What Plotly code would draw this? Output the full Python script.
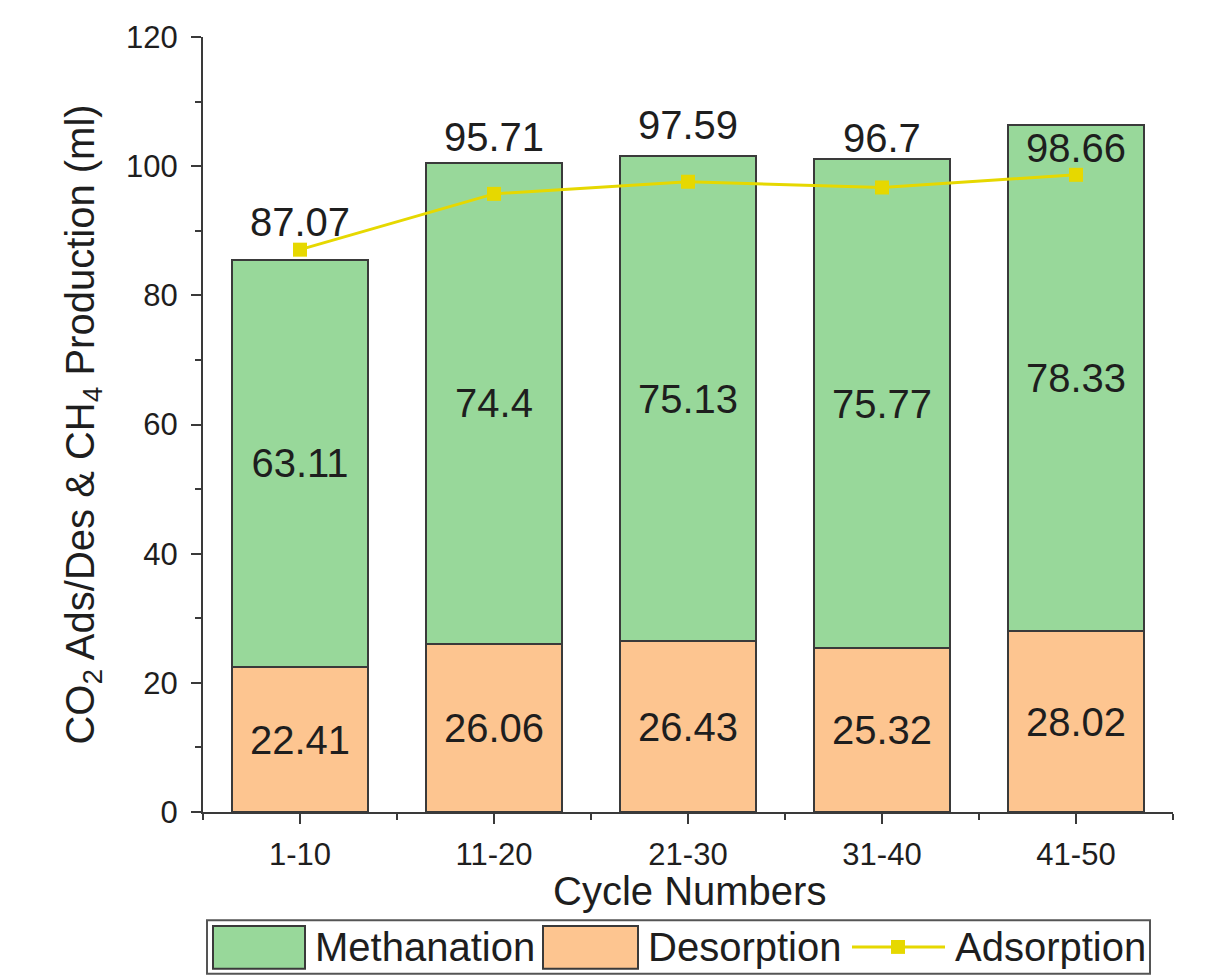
import plotly.graph_objects as go

categories = ["1-10", "11-20", "21-30", "31-40", "41-50"]
desorption = [22.41, 26.06, 26.43, 25.32, 28.02]
methanation = [63.11, 74.4, 75.13, 75.77, 78.33]
adsorption = [87.07, 95.71, 97.59, 96.7, 98.66]

GREEN = "#98D89A"
ORANGE = "#FDC590"
YELLOW = "#E6D800"
EDGE = "#3a3a3a"
TXT = "#1e1e1e"
FONT = "Liberation Sans, Arial, sans-serif"

OFF = 8  # page body margin
W, H = 1217 - OFF, 977 - OFF
L, R, T, B = 203 - OFF, 44, 31 - OFF, 977 - 812
PW, PH = W - L - R, H - T - B

def px(x):
    return (x - OFF - L) / PW

def py(y):
    return (H - B - (y - OFF)) / PH

xs = list(range(len(categories)))
totals = [d + m for d, m in zip(desorption, methanation)]

fig = go.Figure()
fig.add_trace(go.Bar(
    x=xs, y=desorption, name="Desorption", width=0.7,
    marker=dict(color=ORANGE, line=dict(color=EDGE, width=2)),
    text=[f"{v:g}" for v in desorption], textposition="inside",
    insidetextanchor="middle", constraintext="none",
    textfont=dict(size=40, color=TXT, family=FONT), showlegend=False))
fig.add_trace(go.Bar(
    x=xs, y=methanation, name="Methanation", width=0.7,
    marker=dict(color=GREEN, line=dict(color=EDGE, width=2)),
    text=[f"{v:g}" for v in methanation], textposition="inside",
    insidetextanchor="middle", constraintext="none",
    textfont=dict(size=40, color=TXT, family=FONT), showlegend=False))
fig.add_trace(go.Scatter(
    x=xs, y=adsorption, name="Adsorption", mode="lines+markers",
    line=dict(color=YELLOW, width=3),
    marker=dict(symbol="square", size=14, color=YELLOW),
    showlegend=False))

label_yshift = [28, 26, 31, 21, -23]
for i, (a, t) in enumerate(zip(adsorption, totals)):
    fig.add_annotation(x=xs[i], y=max(a, t), text=f"{a:g}", showarrow=False,
                       yanchor="middle", yshift=label_yshift[i],
                       font=dict(size=40, color=TXT, family=FONT))

# x-axis title
fig.add_annotation(xref="paper", yref="paper", x=px(689), y=py(892),
                   xanchor="center", yanchor="middle", showarrow=False,
                   text="Cycle Numbers", font=dict(size=40, color=TXT, family=FONT))

# manual legend
fig.add_shape(type="rect", xref="paper", yref="paper",
              x0=px(207), x1=px(1150), y0=py(921), y1=py(975),
              line=dict(color="#555", width=2), fillcolor="white")
for x0, x1, col, label, tx in [(213, 305, GREEN, "Methanation", 313),
                               (543, 638, ORANGE, "Desorption", 646)]:
    fig.add_shape(type="rect", xref="paper", yref="paper",
                  x0=px(x0), x1=px(x1), y0=py(927), y1=py(970),
                  line=dict(color=EDGE, width=2), fillcolor=col)
    fig.add_annotation(xref="paper", yref="paper", x=px(tx), y=py(948),
                       xanchor="left", yanchor="middle", showarrow=False,
                       text=label, font=dict(size=40, color=TXT, family=FONT))
fig.add_shape(type="line", xref="paper", yref="paper",
              x0=px(852), x1=px(945), y0=py(948), y1=py(948),
              line=dict(color=YELLOW, width=3))
fig.add_shape(type="rect", xref="paper", yref="paper",
              x0=px(891), x1=px(905), y0=py(941), y1=py(955),
              line=dict(color=YELLOW, width=0), fillcolor=YELLOW)
fig.add_annotation(xref="paper", yref="paper", x=px(953), y=py(948),
                   xanchor="left", yanchor="middle", showarrow=False,
                   text="Adsorption", font=dict(size=40, color=TXT, family=FONT))

fig.update_layout(
    width=W, height=H, barmode="stack",
    margin=dict(l=L, r=R, t=T, b=B),
    paper_bgcolor="white", plot_bgcolor="white",
    font=dict(family=FONT, color=TXT),
    showlegend=False,
)
fig.update_xaxes(
    range=[-0.5, 4.5], tickmode="array", tickvals=xs, ticktext=categories,
    showline=True, linecolor=EDGE, linewidth=2, showgrid=False, zeroline=False,
    ticks="outside", ticklen=10, tickwidth=2, tickcolor=EDGE,
    tickfont=dict(size=31, color=TXT), ticklabelstandoff=4,
    minor=dict(tickmode="linear", tick0=-0.5, dtick=1, ticks="outside",
               ticklen=6, tickwidth=2, tickcolor=EDGE, showgrid=False),
)
fig.update_yaxes(
    range=[0, 120], dtick=20, tick0=0,
    showline=True, linecolor=EDGE, linewidth=2, showgrid=False, zeroline=False,
    ticks="outside", ticklen=10, tickwidth=2, tickcolor=EDGE,
    tickfont=dict(size=31, color=TXT), ticklabelstandoff=7,
    minor=dict(dtick=10, ticks="outside", ticklen=6, tickwidth=2,
               tickcolor=EDGE, showgrid=False),
    title=dict(text="CO<sub>2</sub> Ads/Des & CH<sub>4</sub> Production (ml)",
               font=dict(size=40, color=TXT), standoff=19),
)

fig.write_html("out.html")
